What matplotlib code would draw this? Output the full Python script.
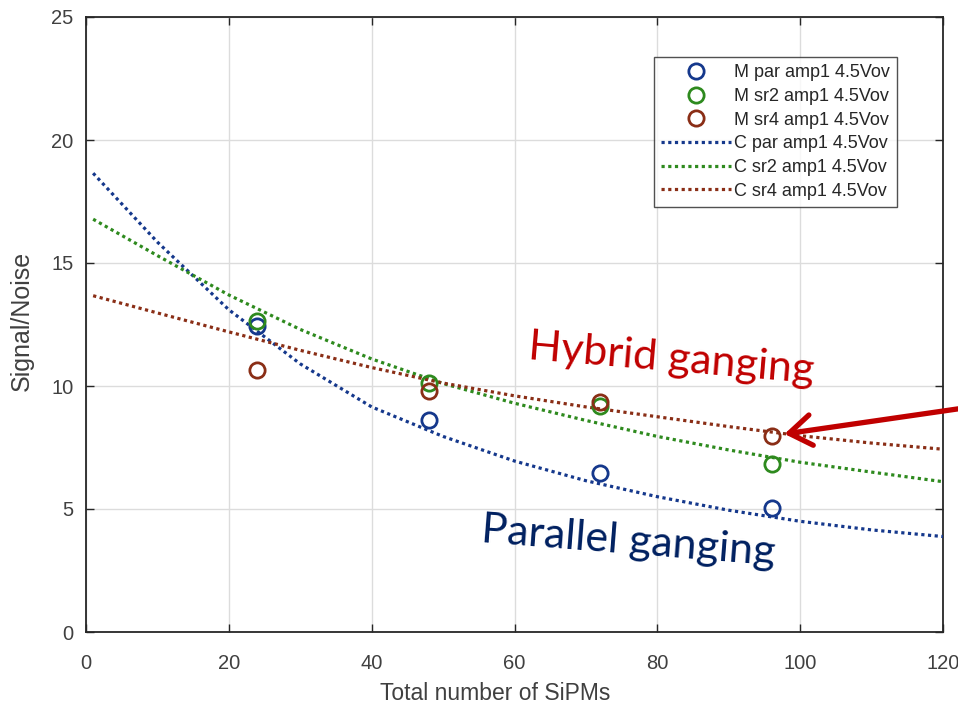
import matplotlib
matplotlib.use("Agg")
import matplotlib.pyplot as plt

# ---- data ----
n_sipm = [24, 48, 72, 96]
m_par = [12.44, 8.62, 6.46, 5.04]
m_sr2 = [12.64, 10.12, 9.19, 6.83]
m_sr4 = [10.65, 9.80, 9.35, 7.97]

curve_x = [1, 10, 20, 30, 40, 50, 60, 70, 80, 90, 100, 110, 120]
c_par = [18.65, 15.85, 13.10, 10.90, 9.15, 7.95, 6.95, 6.15, 5.50, 4.95, 4.50, 4.15, 3.88]
c_sr2 = [16.78, 15.30, 13.70, 12.30, 11.10, 10.10, 9.30, 8.60, 7.95, 7.40, 6.90, 6.50, 6.11]
c_sr4 = [13.67, 12.97, 12.20, 11.45, 10.75, 10.12, 9.60, 9.15, 8.75, 8.35, 7.98, 7.68, 7.43]

labels_m = ["M par amp1 4.5Vov", "M sr2 amp1 4.5Vov", "M sr4 amp1 4.5Vov"]
labels_c = ["C par amp1 4.5Vov", "C sr2 amp1 4.5Vov", "C sr4 amp1 4.5Vov"]

xticks = [0, 20, 40, 60, 80, 100, 120]
yticks = [0, 5, 10, 15, 20, 25]

# ---- style ----
col_par = "#15388c"
col_sr2 = "#2e8a1e"
col_sr4 = "#8a2e16"
txt_gray = "#404040"

plt.rcParams["font.family"] = ["Liberation Sans", "DejaVu Sans"]

fig = plt.figure(figsize=(9.58, 7.06), dpi=100)
ax = fig.add_axes([86 / 958, 74 / 706, 857 / 958, 615 / 706])

ms = 11
mew = 2.0
for y, c, lab in zip([m_par, m_sr2, m_sr4], [col_par, col_sr2, col_sr4], labels_m):
    ax.plot(n_sipm, y, linestyle="none", marker="o", markersize=ms,
            markerfacecolor="none", markeredgecolor=c, markeredgewidth=mew,
            label=lab, zorder=4)
for y, c, lab in zip([c_par, c_sr2, c_sr4], [col_par, col_sr2, col_sr4], labels_c):
    ax.plot(curve_x, y, linestyle=(0, (1, 1.1)), linewidth=2.3, color=c,
            label=lab, zorder=3)

ax.set_xlim(0, 120)
ax.set_ylim(0, 25)
ax.set_xticks(xticks)
ax.set_yticks(yticks)
ax.grid(True, color="#dcdcdc", linewidth=1.0)
ax.set_axisbelow(True)
ax.tick_params(direction="in", length=6, width=1.0, top=True, right=True,
               colors="#262626", labelcolor=txt_gray, labelsize=14.5)
ax.tick_params(axis="x", pad=16)
ax.tick_params(axis="y", pad=9)
for s in ax.spines.values():
    s.set_color("#262626")
    s.set_linewidth(1.3)

ax.set_xlabel("Total number of SiPMs", fontsize=16.5, color=txt_gray)
ax.set_ylabel("Signal/Noise", fontsize=18, color=txt_gray)
ax.xaxis.set_label_coords(0.478, -0.081)
ax.yaxis.set_label_coords(-0.061, 0.505)

leg = ax.legend(loc="upper right", bbox_to_anchor=(0.946, 0.935), fontsize=13,
                frameon=True, fancybox=False, handlelength=3.9,
                handletextpad=0.12, labelspacing=0.37, borderpad=0.4,
                borderaxespad=0.0)
leg.get_frame().set_edgecolor("#262626")
leg.get_frame().set_linewidth(1.0)
for t in leg.get_texts():
    t.set_color("#262626")

# annotations
ax.text(81.9, 11.10, "Hybrid ganging", color="#c00000", fontsize=31,
        family=["Lato", "DejaVu Sans"], rotation=-4.8, ha="center", va="center",
        rotation_mode="anchor")
ax.text(76.0, 3.66, "Parallel ganging", color="#002060", fontsize=31,
        family=["Lato", "DejaVu Sans"], rotation=-4.5, ha="center", va="center",
        rotation_mode="anchor")
ax.annotate("", xy=(97.8, 8.05), xytext=(124, 9.15),
            arrowprops=dict(arrowstyle="->,head_length=1.6,head_width=1.1",
                            color="#c00000", lw=3.8, shrinkA=0, shrinkB=0),
            annotation_clip=False)

fig.savefig("out.png", dpi=100)
